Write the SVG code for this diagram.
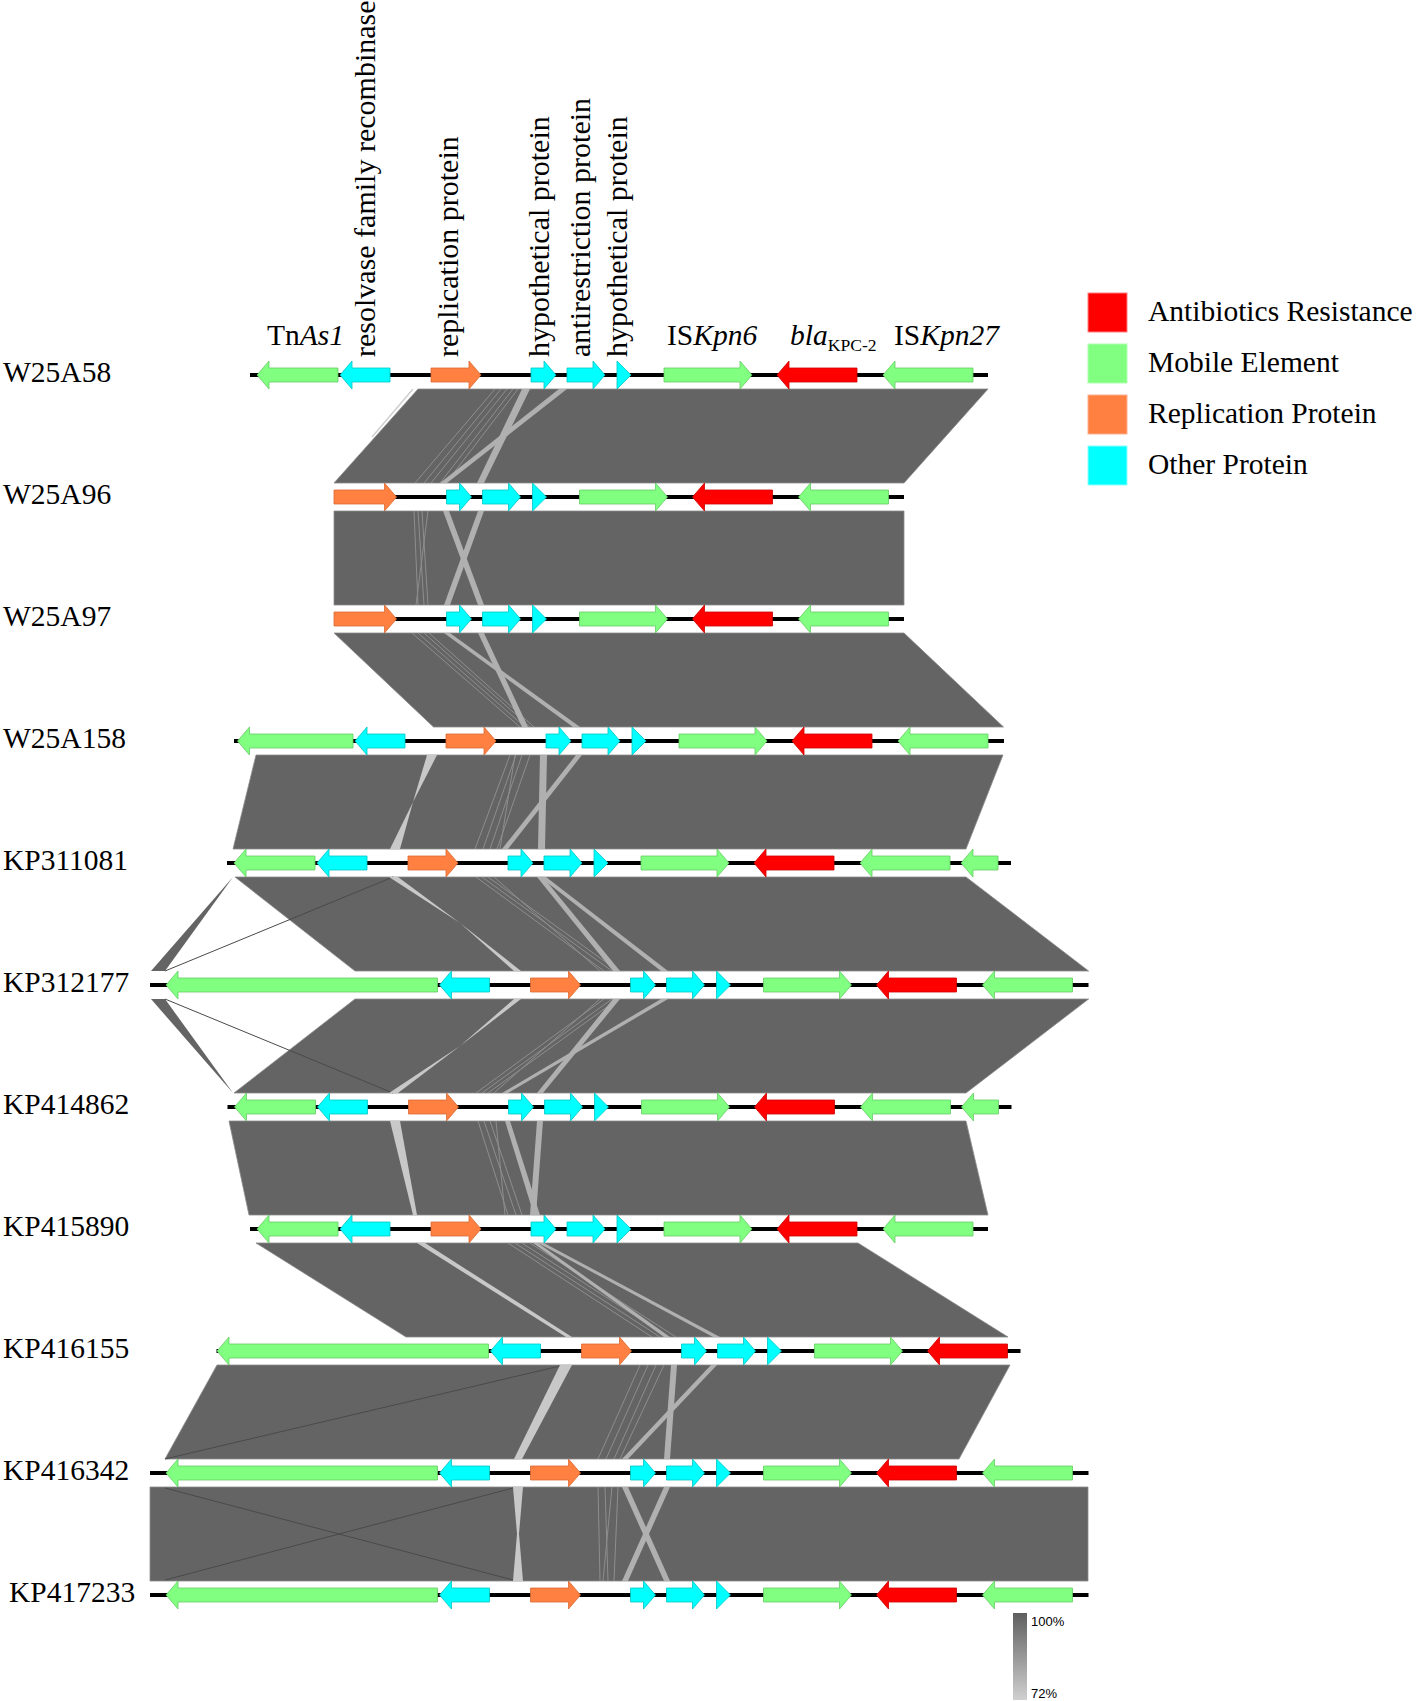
<svg xmlns="http://www.w3.org/2000/svg" xmlns:xlink="http://www.w3.org/1999/xlink" width="1416" height="1701" viewBox="0 0 1416 1701">
<style>
.g{fill:#80FF80;stroke:#66cc66;stroke-width:0.8}
.c{fill:#00FFFF;stroke:#00c4c4;stroke-width:0.8}
.o{fill:#FF8040;stroke:#d86a35;stroke-width:0.8}
.r{fill:#FF0000;stroke:#cc0000;stroke-width:0.8}
.ln{stroke:#000;stroke-width:4}
.band{fill:#646464;stroke:#8c8c8c;stroke-width:0.8}
.sl{fill:#646464}
.st{fill:#b0b0b0}
.stl{fill:#c8c8c8}
.tl{stroke:#8e8e8e;stroke-width:1;fill:none}
.dl{stroke:#4a4a4a;stroke-width:1;fill:none}
.lab{font-family:"Liberation Serif","Times New Roman",serif;font-size:29.5px;fill:#000}
.rot{font-size:30px}
.it{font-style:italic}
.sc{font-family:"Liberation Sans",Arial,sans-serif;font-size:13px;fill:#000}
</style>
<defs>
<polygon id="G1" class="g" points="257,0 269,-14 269,-7 338,-7 338,7 269,7 269,14"/>
<polygon id="G1long" class="g" points="66.5,0 78.5,-14 78.5,-7 338,-7 338,7 78.5,7 78.5,14"/>
<polygon id="G1ext" class="g" points="222.5,0 234.5,-14 234.5,-7 338,-7 338,7 234.5,7 234.5,14"/>
<polygon id="C1" class="c" points="340,0 352,-14 352,-7 390,-7 390,7 352,7 352,14"/>
<polygon id="O1" class="o" points="431,-7 469,-7 469,-14 481,0 469,14 469,7 431,7"/>
<polygon id="O1long" class="o" points="418.5,-7 469,-7 469,-14 481,0 469,14 469,7 418.5,7"/>
<polygon id="C2" class="c" points="531,-7 544,-7 544,-14 556,0 544,14 544,7 531,7"/>
<polygon id="C3" class="c" points="567,-7 593,-7 593,-14 605,0 593,14 593,7 567,7"/>
<polygon id="T1" class="c" points="617,-14 631,0 617,14"/>
<polygon id="G2" class="g" points="664,-7 740,-7 740,-14 752,0 740,14 740,7 664,7"/>
<polygon id="R1" class="r" points="777,0 789,-14 789,-7 857,-7 857,7 789,7 789,14"/>
<polygon id="G3" class="g" points="883,0 895,-14 895,-7 973,-7 973,7 895,7 895,14"/>
<polygon id="G4" class="g" points="984,0 996,-14 996,-7 1021,-7 1021,7 996,7 996,14"/>
<linearGradient id="scale" x1="0" y1="0" x2="0" y2="1">
<stop offset="0" stop-color="#5f5f5f"/>
<stop offset="1" stop-color="#d0d0d0"/>
</linearGradient>
</defs>
<rect width="1416" height="1701" fill="#fff"/>

<g id="connectors">
<!-- W25A58 - W25A96 -->
<polygon class="band" points="418,389 988,389 904,483 334,483"/>
<line class="tl" x1="413" y1="389" x2="372" y2="437" style="stroke:#cfcfcf;stroke-width:1.5"/>
<line class="tl" x1="495" y1="389" x2="415" y2="483"/>
<line class="tl" x1="501" y1="389" x2="424" y2="483"/>
<line class="tl" x1="507" y1="389" x2="431" y2="483"/>
<line class="tl" x1="513" y1="389" x2="440" y2="483"/>
<line class="tl" x1="518" y1="389" x2="446" y2="483"/>
<polygon class="st" points="522,389 530,389 484,483 477,483"/>
<polygon class="st" points="559,389 567,389 447,483 440,483"/>
<!-- W25A96 - W25A97 -->
<polygon class="band" points="334,511 904,511 904,605 334,605"/>
<line class="tl" x1="414" y1="511" x2="418" y2="605"/>
<line class="tl" x1="418" y1="511" x2="424" y2="605"/>
<line class="tl" x1="422" y1="511" x2="428" y2="605"/>
<line class="tl" x1="428" y1="511" x2="416" y2="605"/>
<polygon class="st" points="443,511 449,511 484,605 478,605"/>
<polygon class="st" points="478,511 484,511 450,605 444,605"/>
<!-- W25A97 - W25A158 -->
<polygon class="band" points="334,633 904,633 1003.5,727 433.5,727"/>
<line class="tl" x1="412" y1="633" x2="520" y2="727"/>
<line class="tl" x1="418" y1="633" x2="525" y2="727"/>
<line class="tl" x1="424" y1="633" x2="530" y2="727"/>
<line class="tl" x1="429" y1="633" x2="534" y2="727"/>
<polygon class="st" points="444,633 450,633 580,727 573,727"/>
<polygon class="st" points="478,633 484,633 528,727 522,727"/>
<!-- W25A158 - KP311081 -->
<polygon class="band" points="256,755 1003,755 966,849 233,849"/>
<polygon class="stl" points="427,755 437,755 413,802"/>
<polygon class="stl" points="413,802 390,849 400,849"/>
<line class="tl" x1="510" y1="755" x2="475" y2="849"/>
<line class="tl" x1="516" y1="755" x2="483" y2="849"/>
<line class="tl" x1="522" y1="755" x2="490" y2="849"/>
<line class="tl" x1="530" y1="755" x2="497" y2="849"/>
<line class="tl" x1="515" y1="755" x2="500" y2="849"/>
<polygon class="st" points="540,755 547,755 545,849 538,849"/>
<polygon class="st" points="576,755 582,755 508,849 502,849"/>
<!-- KP311081 - KP312177 -->
<polygon class="band" points="235,877 966,877 1088.6,971 355,971"/>
<polygon class="sl" points="233,877 151,971 165,971"/>
<line class="dl" x1="165" y1="971" x2="393" y2="877"/>
<polygon class="stl" points="389,877 398,877 460,923"/>
<polygon class="stl" points="460,923 514,971 521,971"/>
<line class="tl" x1="476" y1="877" x2="604" y2="971"/>
<line class="tl" x1="482" y1="877" x2="612" y2="971"/>
<line class="tl" x1="488" y1="877" x2="618" y2="971"/>
<line class="tl" x1="494" y1="877" x2="600" y2="971"/>
<polygon class="st" points="537,877 543,877 620,971 613,971"/>
<polygon class="st" points="540,877 546,877 668,971 661,971"/>
<!-- KP312177 - KP414862 -->
<polygon class="band" points="355,999 1088.6,999 966,1093 234,1093"/>
<polygon class="sl" points="151,999 165,999 233,1093"/>
<line class="dl" x1="165" y1="999" x2="393" y2="1093"/>
<polygon class="stl" points="514,999 521,999 460,1046"/>
<polygon class="stl" points="460,1046 389,1093 398,1093"/>
<line class="tl" x1="604" y1="999" x2="476" y2="1093"/>
<line class="tl" x1="612" y1="999" x2="482" y2="1093"/>
<line class="tl" x1="618" y1="999" x2="488" y2="1093"/>
<line class="tl" x1="600" y1="999" x2="494" y2="1093"/>
<polygon class="st" points="613,999 620,999 543,1093 537,1093"/>
<polygon class="st" points="661,999 668,999 508,1093 502,1093"/>
<!-- KP414862 - KP415890 -->
<polygon class="band" points="229,1121 966,1121 988,1215 249,1215"/>
<polygon class="stl" points="390,1121 400,1121 417,1215 413,1215"/>
<line class="tl" x1="478" y1="1121" x2="508" y2="1215"/>
<line class="tl" x1="484" y1="1121" x2="516" y2="1215"/>
<line class="tl" x1="490" y1="1121" x2="522" y2="1215"/>
<line class="tl" x1="496" y1="1121" x2="505" y2="1215"/>
<polygon class="st" points="537,1121 543,1121 536,1215 530,1215"/>
<polygon class="st" points="505,1121 510,1121 540,1215 534,1215"/>
<!-- KP415890 - KP416155 -->
<polygon class="band" points="256,1243 858,1243 1008,1337 406,1337"/>
<polygon class="stl" points="417,1243 425,1243 572,1337 566,1337"/>
<line class="tl" x1="508" y1="1243" x2="652" y2="1337"/>
<line class="tl" x1="515" y1="1243" x2="660" y2="1337"/>
<line class="tl" x1="522" y1="1243" x2="668" y2="1337"/>
<line class="tl" x1="530" y1="1243" x2="676" y2="1337"/>
<polygon class="st" points="538,1243 544,1243 720,1337 713,1337"/>
<polygon class="st" points="533,1243 538,1243 670,1337 664,1337"/>
<!-- KP416155 - KP416342 -->
<polygon class="band" points="217,1365 1010,1365 959,1459 165,1459"/>
<line class="dl" x1="165" y1="1459" x2="560" y2="1366"/>
<polygon class="stl" points="560,1365 572,1365 522,1459 514,1459"/>
<line class="tl" x1="640" y1="1365" x2="598" y2="1459"/>
<line class="tl" x1="648" y1="1365" x2="606" y2="1459"/>
<line class="tl" x1="656" y1="1365" x2="614" y2="1459"/>
<line class="tl" x1="664" y1="1365" x2="620" y2="1459"/>
<polygon class="st" points="671,1365 677,1365 670,1459 664,1459"/>
<polygon class="st" points="711,1365 717,1365 628,1459 622,1459"/>
<!-- KP416342 - KP417233 -->
<polygon class="band" points="150,1487 1088,1487 1088,1581 150,1581"/>
<line class="dl" x1="165" y1="1488" x2="513" y2="1580"/>
<line class="dl" x1="513" y1="1488" x2="165" y2="1580"/>
<polygon class="stl" points="513,1487 523,1487 519,1534 523,1581 513,1581 517,1534"/>
<line class="tl" x1="598" y1="1487" x2="600" y2="1581"/>
<line class="tl" x1="605" y1="1487" x2="608" y2="1581"/>
<line class="tl" x1="612" y1="1487" x2="603" y2="1581"/>
<line class="tl" x1="618" y1="1487" x2="614" y2="1581"/>
<polygon class="st" points="622,1487 628,1487 670,1581 664,1581"/>
<polygon class="st" points="664,1487 670,1487 628,1581 622,1581"/>
</g>

<g id="gene-labels" class="lab">
<text x="267" y="345">Tn<tspan class="it">As1</tspan></text>
<text class="rot" transform="translate(375,357) rotate(-90)">resolvase family recombinase</text>
<text class="rot" transform="translate(458,357) rotate(-90)">replication protein</text>
<text class="rot" transform="translate(549,357) rotate(-90)">hypothetical protein</text>
<text class="rot" transform="translate(590,357) rotate(-90)">antirestriction protein</text>
<text class="rot" transform="translate(627,357) rotate(-90)">hypothetical protein</text>
<text x="667" y="345">IS<tspan class="it">Kpn6</tspan></text>
<text x="790" y="345"><tspan class="it">bla</tspan><tspan font-size="17.6" dy="6">KPC-2</tspan></text>
<text x="894" y="345">IS<tspan class="it">Kpn27</tspan></text>
</g>

<g id="W25A58" transform="translate(0,375)">
<text class="lab" x="3" y="7">W25A58</text>
<line class="ln" x1="250" y1="0" x2="988" y2="0"/>
<use href="#G1"/><use href="#C1"/><use href="#O1"/><use href="#C2"/><use href="#C3"/><use href="#T1"/><use href="#G2"/><use href="#R1"/><use href="#G3"/>
</g>
<g id="W25A96" transform="translate(-84.5,497)">
<text class="lab" x="87.5" y="7">W25A96</text>
<line class="ln" x1="418.5" y1="0" x2="988.5" y2="0"/>
<use href="#O1long"/><use href="#C2"/><use href="#C3"/><use href="#T1"/><use href="#G2"/><use href="#R1"/><use href="#G3"/>
</g>
<g id="W25A97" transform="translate(-84.5,619)">
<text class="lab" x="87.5" y="7">W25A97</text>
<line class="ln" x1="418.5" y1="0" x2="988.5" y2="0"/>
<use href="#O1long"/><use href="#C2"/><use href="#C3"/><use href="#T1"/><use href="#G2"/><use href="#R1"/><use href="#G3"/>
</g>
<g id="W25A158" transform="translate(15,741)">
<text class="lab" x="-12" y="7">W25A158</text>
<line class="ln" x1="219" y1="0" x2="989" y2="0"/>
<use href="#G1ext"/><use href="#C1"/><use href="#O1"/><use href="#C2"/><use href="#C3"/><use href="#T1"/><use href="#G2"/><use href="#R1"/><use href="#G3"/>
</g>
<g id="KP311081" transform="translate(-23,863)">
<text class="lab" x="26" y="7">KP311081</text>
<line class="ln" x1="250" y1="0" x2="1034" y2="0"/>
<use href="#G1"/><use href="#C1"/><use href="#O1"/><use href="#C2"/><use href="#C3"/><use href="#T1"/><use href="#G2"/><use href="#R1"/><use href="#G3"/><use href="#G4"/>
</g>
<g id="KP312177" transform="translate(99.5,985)">
<text class="lab" x="-96.5" y="7">KP312177</text>
<line class="ln" x1="50.5" y1="0" x2="989" y2="0"/>
<use href="#G1long"/><use href="#C1"/><use href="#O1"/><use href="#C2"/><use href="#C3"/><use href="#T1"/><use href="#G2"/><use href="#R1"/><use href="#G3"/>
</g>
<g id="KP414862" transform="translate(-22.5,1107)">
<text class="lab" x="25.5" y="7">KP414862</text>
<line class="ln" x1="250" y1="0" x2="1034" y2="0"/>
<use href="#G1"/><use href="#C1"/><use href="#O1"/><use href="#C2"/><use href="#C3"/><use href="#T1"/><use href="#G2"/><use href="#R1"/><use href="#G3"/><use href="#G4"/>
</g>
<g id="KP415890" transform="translate(0,1229)">
<text class="lab" x="3" y="7">KP415890</text>
<line class="ln" x1="250" y1="0" x2="988" y2="0"/>
<use href="#G1"/><use href="#C1"/><use href="#O1"/><use href="#C2"/><use href="#C3"/><use href="#T1"/><use href="#G2"/><use href="#R1"/><use href="#G3"/>
</g>
<g id="KP416155" transform="translate(150.5,1351)">
<text class="lab" x="-147.5" y="7">KP416155</text>
<line class="ln" x1="66" y1="0" x2="870" y2="0"/>
<use href="#G1long"/><use href="#C1"/><use href="#O1"/><use href="#C2"/><use href="#C3"/><use href="#T1"/><use href="#G2"/><use href="#R1"/>
</g>
<g id="KP416342" transform="translate(99.5,1473)">
<text class="lab" x="-96.5" y="7">KP416342</text>
<line class="ln" x1="50.5" y1="0" x2="989" y2="0"/>
<use href="#G1long"/><use href="#C1"/><use href="#O1"/><use href="#C2"/><use href="#C3"/><use href="#T1"/><use href="#G2"/><use href="#R1"/><use href="#G3"/>
</g>
<g id="KP417233" transform="translate(99.5,1595)">
<text class="lab" x="-90.5" y="7">KP417233</text>
<line class="ln" x1="50.5" y1="0" x2="989" y2="0"/>
<use href="#G1long"/><use href="#C1"/><use href="#O1"/><use href="#C2"/><use href="#C3"/><use href="#T1"/><use href="#G2"/><use href="#R1"/><use href="#G3"/>
</g>

<g id="legend">
<rect x="1088" y="293" width="39" height="39" fill="#FF0000" stroke="#ff8080" stroke-width="1"/>
<text class="lab" x="1148" y="321">Antibiotics Resistance</text>
<rect x="1088" y="344" width="39" height="39" fill="#80FF80" stroke="#b0ffb0" stroke-width="1"/>
<text class="lab" x="1148" y="372">Mobile Element</text>
<rect x="1088" y="395" width="39" height="39" fill="#FF8040" stroke="#ffb090" stroke-width="1"/>
<text class="lab" x="1148" y="423">Replication Protein</text>
<rect x="1088" y="446" width="39" height="39" fill="#00FFFF" stroke="#90ffff" stroke-width="1"/>
<text class="lab" x="1148" y="474">Other Protein</text>
</g>

<g id="scale-bar">
<rect x="1013" y="1613" width="14" height="87" fill="url(#scale)"/>
<text class="sc" x="1031" y="1626">100%</text>
<text class="sc" x="1031" y="1698">72%</text>
</g>
</svg>
